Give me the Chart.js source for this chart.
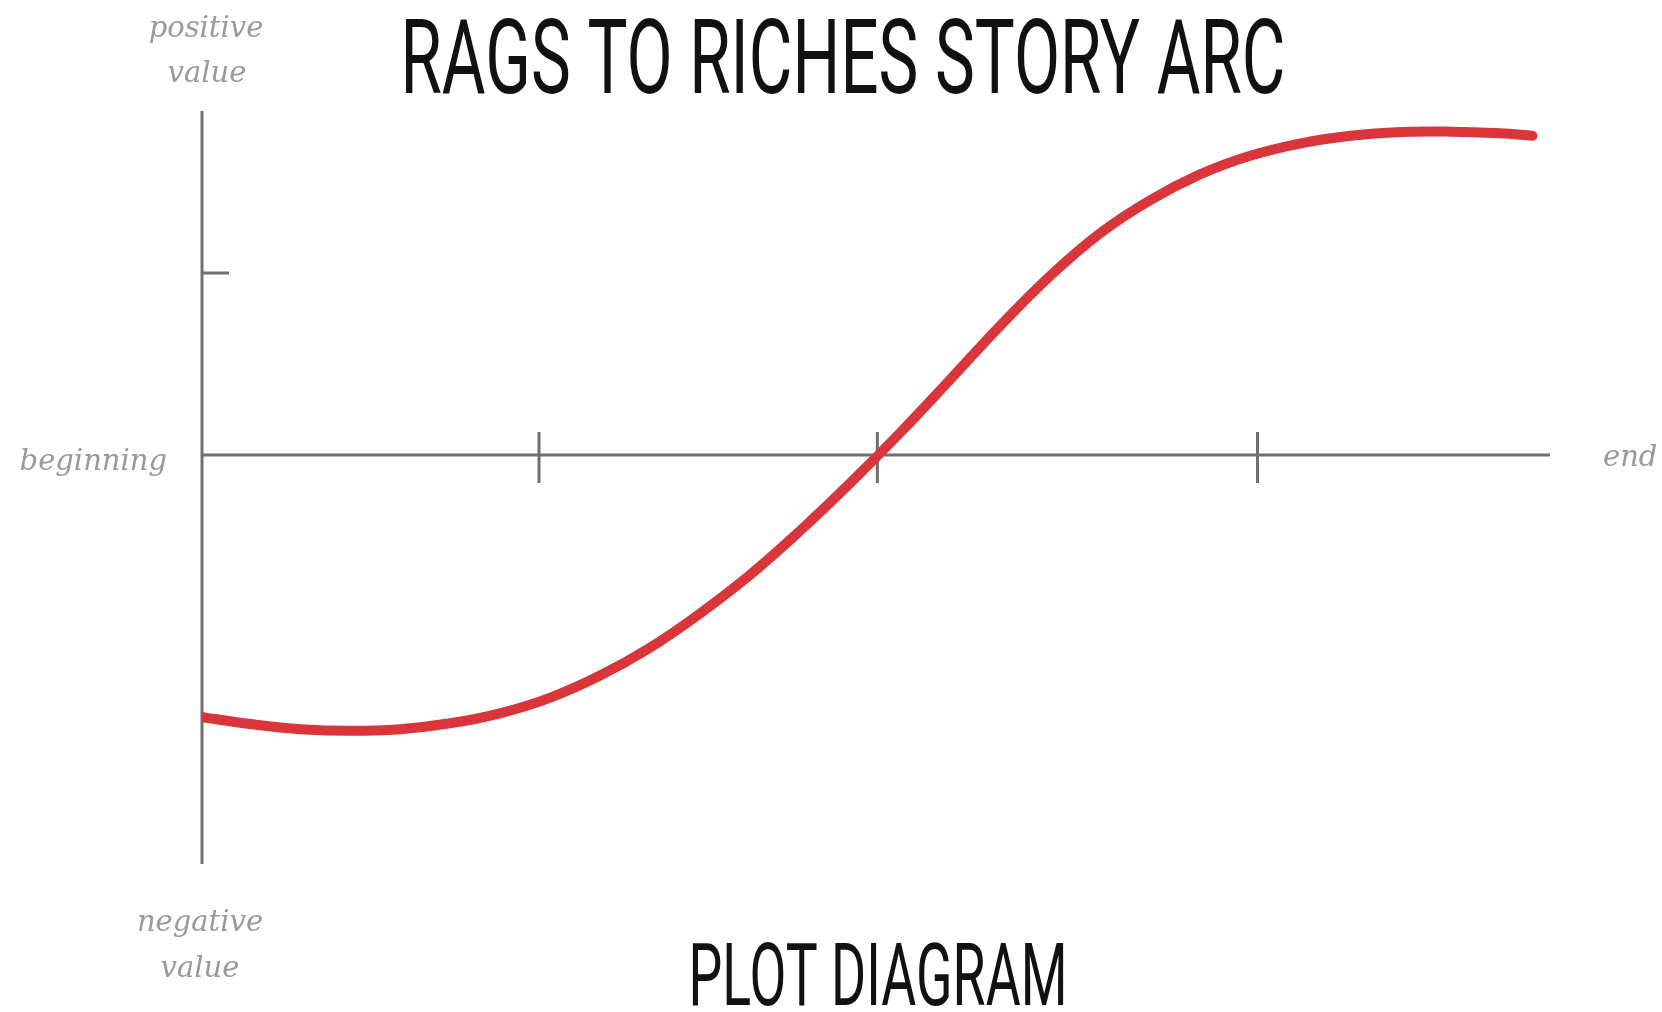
<!DOCTYPE html>
<html>
<head>
<meta charset="utf-8">
<script src="https://cdn.jsdelivr.net/npm/chart.js@4/dist/chart.umd.min.js"></script>
<style>
  html, body { margin: 0; padding: 0; background: #fff; }
  #wrap { width: 1662px; height: 1012px; }
</style>
</head>
<body>
<div id="wrap"><canvas id="arco"></canvas></div>
<script>
// story progress (0 = beginning, 100 = end)
var progresso = [0, 3.6, 7.3, 11, 14.7, 18.4, 22.1, 25.8, 29.5, 33.2, 36.9, 40.7, 44.4, 48.1, 51.8, 55.5, 59.2, 62.9, 66.6, 70.3, 74, 77.7, 81.5, 85.2, 88.9, 92.6, 96.3, 98.7];
// fortune of the hero (negative .. positive)
var fortuna = [-76.2, -78.2, -79.7, -80.2, -79.7, -78, -75.1, -70.6, -64.2, -56.1, -46.2, -34.7, -21.9, -8.1, 6.5, 21.9, 37.5, 52, 64.4, 74, 81.5, 86.9, 90.6, 92.8, 93.9, 94, 93.5, 92.8];
var marcasX = [25, 50.1, 78.3];
var marcasY = [52.9];
var titulo = "RAGS TO RICHES STORY ARC";
var subtitulo = "PLOT DIAGRAM";
var rotuloPositivo = ["positive", "value"];
var rotuloNegativo = ["negative", "value"];
var rotuloInicio = "beginning";
var rotuloFim = "end";

var pontos = [];
for (var i = 0; i < progresso.length; i++) {
  pontos.push({ x: progresso[i], y: fortuna[i] });
}

// desenha os eixos em cruz e as marcas
const eixosPlugin = {
  id: "eixos",
  beforeDatasetsDraw: function (chart) {
    var ctx = chart.ctx;
    var sx = chart.scales.x;
    var sy = chart.scales.y;
    var x0 = sx.getPixelForValue(0);
    var y0 = sy.getPixelForValue(0);
    ctx.save();
    ctx.strokeStyle = "#6f6f6f";
    ctx.lineWidth = 3;
    ctx.beginPath();
    ctx.moveTo(x0, sy.top);
    ctx.lineTo(x0, sy.bottom);
    ctx.moveTo(x0, y0);
    ctx.lineTo(sx.right, y0);
    for (var i = 0; i < marcasX.length; i++) {
      var px = sx.getPixelForValue(marcasX[i]);
      ctx.moveTo(px, y0 - 23);
      ctx.lineTo(px, y0 + 28);
    }
    for (var j = 0; j < marcasY.length; j++) {
      var py = sy.getPixelForValue(marcasY[j]);
      ctx.moveTo(x0, py);
      ctx.lineTo(x0 + 27, py);
    }
    ctx.stroke();
    ctx.restore();
  },
  afterDraw: function (chart) {
    var ctx = chart.ctx;
    var sx = chart.scales.x;
    var sy = chart.scales.y;
    var x0 = sx.getPixelForValue(0);
    var y0 = sy.getPixelForValue(0);

    ctx.save();
    // rotulos cinzas em italico
    ctx.fillStyle = "#9a9a9a";
    ctx.font = "italic 29px 'DejaVu Serif'";
    ctx.textBaseline = "alphabetic";
    ctx.textAlign = "center";
    ctx.fillText(rotuloPositivo[0], x0 + 4, 37);
    ctx.fillText(rotuloPositivo[1], x0 + 5, 82);
    ctx.fillText(rotuloNegativo[0], x0 - 2, 931);
    ctx.fillText(rotuloNegativo[1], x0 - 2, 977);
    ctx.textAlign = "right";
    ctx.fillText(rotuloInicio, x0 - 35, y0 + 15);
    ctx.textAlign = "left";
    ctx.fillText(rotuloFim, sx.right + 53, y0 + 11);

    // titulos condensados
    ctx.fillStyle = "#111";
    desenharCondensado(ctx, titulo, 843, 93, 104, 885);
    desenharCondensado(ctx, subtitulo, 878, 1005, 87, 379);
    ctx.restore();
  }
};

function desenharCondensado(ctx, texto, cx, base, tamanho, largura) {
  ctx.save();
  ctx.font = "400 " + tamanho + "px Roboto";
  ctx.textAlign = "center";
  var medida = ctx.measureText(texto).width;
  ctx.translate(cx, base);
  ctx.scale(largura / medida, 1);
  ctx.fillText(texto, 0, 0);
  ctx.restore();
}

const configArco = {
  type: "line",
  data: {
    datasets: [
      {
        label: "Rags to riches",
        data: pontos,
        borderColor: "#d9353b",
        borderWidth: 10,
        borderCapStyle: "round",
        borderJoinStyle: "round",
        tension: 0.4,
        pointRadius: 0,
        fill: false,
      },
    ],
  },
  options: {
    responsive: true,
    maintainAspectRatio: false,
    animation: false,
    layout: {
      padding: { left: 202, right: 112, top: 111, bottom: 148 },
    },
    plugins: {
      legend: { display: false },
      tooltip: { enabled: false },
      title: { display: false },
    },
    scales: {
      x: { type: "linear", min: 0, max: 100, display: false },
      y: { type: "linear", min: -118.9, max: 100, display: false },
    },
  },
  plugins: [eixosPlugin],
};

var graficoArco = new Chart(document.getElementById("arco"), configArco);
</script>
</body>
</html>
